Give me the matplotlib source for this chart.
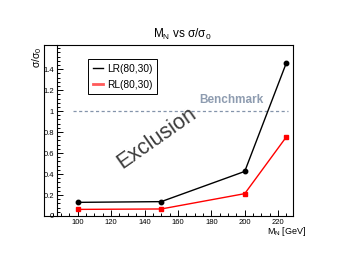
import matplotlib
matplotlib.use('Agg')
import matplotlib.pyplot as plt
from matplotlib.lines import Line2D
from matplotlib.ticker import MultipleLocator

plt.rcParams['font.family'] = ['Liberation Sans', 'DejaVu Sans']
plt.rcParams['mathtext.fontset'] = 'custom'
plt.rcParams['mathtext.rm'] = 'Liberation Sans'
plt.rcParams['mathtext.it'] = 'Liberation Sans'

# data
mass = [100, 150, 200, 225]
lr_ratio = [0.13, 0.137, 0.425, 1.463]
rl_ratio = [0.063, 0.067, 0.213, 0.756]
lr_label = 'LR(80,30)'
rl_label = 'RL(80,30)'
benchmark = 1.0

W, H = 354, 266
XMIN, XMAX = 79.8, 228.9
fig = plt.figure(figsize=(W / 100, H / 100), dpi=100)
ax = fig.add_axes([44 / W, 1 - 216 / H, 249 / W, 171 / H])

ax.plot(mass, lr_ratio, color='black', lw=1.0, marker='o', ms=3.2, zorder=3)
ax.plot(mass, rl_ratio, color='red', lw=1.0, marker='s', ms=3.2, zorder=3)

ax.set_xlim(XMIN, XMAX)
ax.set_ylim(0, 1.63)

# benchmark line + labels
ax.axhline(benchmark, xmin=(97 - XMIN) / (XMAX - XMIN), xmax=(225.7 - XMIN) / (XMAX - XMIN),
           color='#8494ab', lw=0.9, ls=(0, (2.5, 2)))
ax.text(192, 1.105, 'Benchmark', color='#8e9cb0', fontsize=8.5,
        fontweight='bold', ha='center', va='center')
ax.text(147.5, 0.74, 'Exclusion', color='#3c3c3c', fontsize=15.5,
        rotation=35, ha='center', va='center', rotation_mode='anchor')

# ROOT style axes: y axis sits inside the frame
ax.spines['left'].set_position(('data', 87.5))
for s in ax.spines.values():
    s.set_linewidth(0.8)
ax.add_line(Line2D([0, 0], [0, 1], transform=ax.transAxes, color='black',
                   lw=0.8, clip_on=False))

ax.xaxis.set_minor_locator(MultipleLocator(5))
ax.yaxis.set_minor_locator(MultipleLocator(0.04))
ax.set_yticks([0, 0.2, 0.4, 0.6, 0.8, 1.0, 1.2, 1.4])
ax.set_yticklabels(['0', '0.2', '0.4', '0.6', '0.8', '1', '1.2', '1.4'])
ax.set_xticks([100, 120, 140, 160, 180, 200, 220])
ax.tick_params(which='both', direction='in', labelsize=5.5, width=0.7)
ax.tick_params(which='major', length=4.5)
ax.tick_params(which='minor', length=2.3)
ax.tick_params(axis='y', pad=2)
ax.tick_params(axis='x', pad=2.5)

# legend
handles = [Line2D([], [], color='black', lw=1.0),
           Line2D([], [], color='#ff5a5a', lw=2.0)]
leg = ax.legend(handles, [lr_label, rl_label], loc='upper left',
                bbox_to_anchor=(88 / W, 1 - 59 / H), bbox_transform=fig.transFigure,
                borderaxespad=0, fontsize=7.3, handlelength=1.0, handletextpad=0.4,
                labelspacing=0.6, borderpad=0.45, fancybox=False, framealpha=1)
leg.get_frame().set_edgecolor('black')
leg.get_frame().set_linewidth(0.7)

fig.text(182 / W, 1 - 34 / H, r'M$_\mathrm{N}$ vs $\sigma/\sigma_0$',
         ha='center', va='center', fontsize=8.5)
fig.text(37 / W, 1 - 47 / H, r'$\sigma/\sigma_0$', rotation=90,
         ha='center', va='top', fontsize=7.5)
fig.text(306 / W, 1 - 232 / H, r'M$_\mathrm{N}$ [GeV]',
         ha='right', va='center', fontsize=6.5)

fig.savefig('out.png', dpi=100)
